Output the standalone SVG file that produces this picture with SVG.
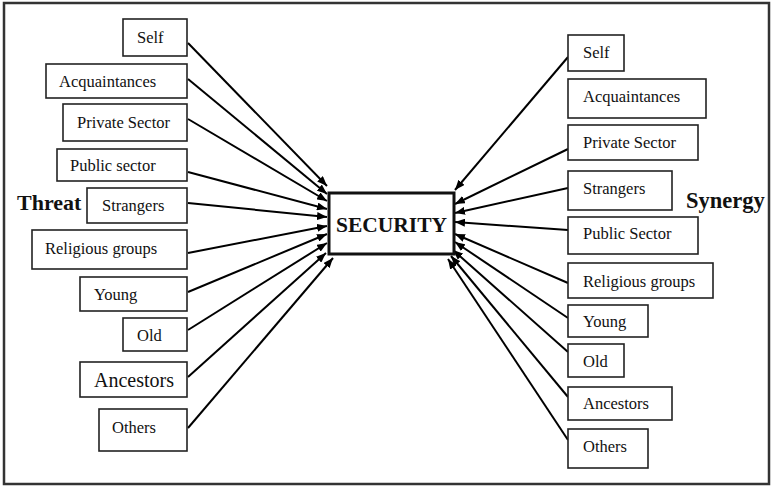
<svg xmlns="http://www.w3.org/2000/svg" width="771" height="487" viewBox="0 0 771 487">
<style>
.box{fill:#fff;stroke:#222;stroke-width:1.6}
.t{font-family:"Liberation Serif","Times New Roman",serif;font-size:16.5px;fill:#111}
.big{font-family:"Liberation Serif","Times New Roman",serif;font-weight:bold;fill:#111}
.c line{stroke:#000;stroke-width:2;marker-end:url(#ah)}
</style>
<defs>
<marker id="ah" markerUnits="userSpaceOnUse" markerWidth="10" markerHeight="8" refX="10" refY="4" orient="auto">
<path d="M0,0 L10,4 L0,8 z" fill="#000"/>
</marker>
</defs>
<rect x="0" y="0" width="771" height="487" fill="#fff"/>
<rect x="4" y="3" width="765" height="481" fill="#fff" stroke="#333" stroke-width="2.5"/>

<g class="c" id="connectors">
<line x1="188" y1="43" x2="327" y2="186"/>
<line x1="188" y1="79" x2="327" y2="194"/>
<line x1="188" y1="119" x2="327" y2="201"/>
<line x1="188" y1="172" x2="327" y2="209"/>
<line x1="188" y1="203" x2="327" y2="217"/>
<line x1="188" y1="253" x2="327" y2="226"/>
<line x1="188" y1="292" x2="327" y2="234"/>
<line x1="188" y1="330" x2="327" y2="243"/>
<line x1="188" y1="377" x2="326" y2="253"/>
<line x1="188" y1="428" x2="333" y2="258"/>
<line x1="568" y1="57" x2="455" y2="190"/>
<line x1="568" y1="149" x2="455" y2="204"/>
<line x1="568" y1="188" x2="455" y2="213"/>
<line x1="568" y1="230" x2="455" y2="222"/>
<line x1="568" y1="283" x2="455" y2="234"/>
<line x1="568" y1="318" x2="455" y2="242"/>
<line x1="568" y1="352" x2="453" y2="250"/>
<line x1="568" y1="397" x2="451" y2="256"/>
<line x1="568" y1="440" x2="448" y2="259"/>
</g>

<g id="security">
<rect x="329" y="193" width="125" height="61" fill="#fff" stroke="#111" stroke-width="3"/>
<text class="big" x="391.5" y="232" font-size="21.5" text-anchor="middle">SECURITY</text>
</g>

<g id="threat"><text class="big" x="17" y="210" font-size="22">Threat</text></g>
<g id="synergy"><text class="big" x="686" y="208" font-size="22.5">Synergy</text></g>

<g id="l-self"><rect class="box" x="123" y="19" width="64" height="37"/><text class="t" x="137" y="43">Self</text></g>
<g id="l-acq"><rect class="box" x="46" y="64" width="141" height="34"/><text class="t" x="59" y="87">Acquaintances</text></g>
<g id="l-priv"><rect class="box" x="63" y="104" width="124" height="37"/><text class="t" x="77" y="128">Private Sector</text></g>
<g id="l-pub"><rect class="box" x="57" y="149" width="130" height="32"/><text class="t" x="70" y="171">Public sector</text></g>
<g id="l-str"><rect class="box" x="87" y="188" width="100" height="35"/><text class="t" x="102" y="211">Strangers</text></g>
<g id="l-rel"><rect class="box" x="32" y="230" width="155" height="39"/><text class="t" x="45" y="254">Religious groups</text></g>
<g id="l-young"><rect class="box" x="80" y="277" width="107" height="34"/><text class="t" x="94" y="300">Young</text></g>
<g id="l-old"><rect class="box" x="123" y="318" width="64" height="33"/><text class="t" x="137" y="341">Old</text></g>
<g id="l-anc"><rect class="box" x="80" y="362" width="107" height="35"/><text class="t" x="94" y="387" style="font-size:20px">Ancestors</text></g>
<g id="l-oth"><rect class="box" x="99" y="409" width="88" height="42"/><text class="t" x="112" y="433">Others</text></g>

<g id="r-self"><rect class="box" x="568" y="35" width="56" height="36"/><text class="t" x="583" y="58">Self</text></g>
<g id="r-acq"><rect class="box" x="568" y="79" width="138" height="39"/><text class="t" x="583" y="102">Acquaintances</text></g>
<g id="r-priv"><rect class="box" x="568" y="125" width="130" height="35"/><text class="t" x="583" y="148">Private Sector</text></g>
<g id="r-str"><rect class="box" x="568" y="171" width="104" height="39"/><text class="t" x="583" y="194">Strangers</text></g>
<g id="r-pub"><rect class="box" x="568" y="217" width="130" height="37"/><text class="t" x="583" y="239">Public Sector</text></g>
<g id="r-rel"><rect class="box" x="568" y="263" width="145" height="35"/><text class="t" x="583" y="287">Religious groups</text></g>
<g id="r-young"><rect class="box" x="568" y="305" width="80" height="32"/><text class="t" x="583" y="327">Young</text></g>
<g id="r-old"><rect class="box" x="568" y="344" width="56" height="33"/><text class="t" x="583" y="367">Old</text></g>
<g id="r-anc"><rect class="box" x="568" y="387" width="104" height="33"/><text class="t" x="583" y="409">Ancestors</text></g>
<g id="r-oth"><rect class="box" x="568" y="429" width="80" height="39"/><text class="t" x="583" y="452">Others</text></g>
</svg>
